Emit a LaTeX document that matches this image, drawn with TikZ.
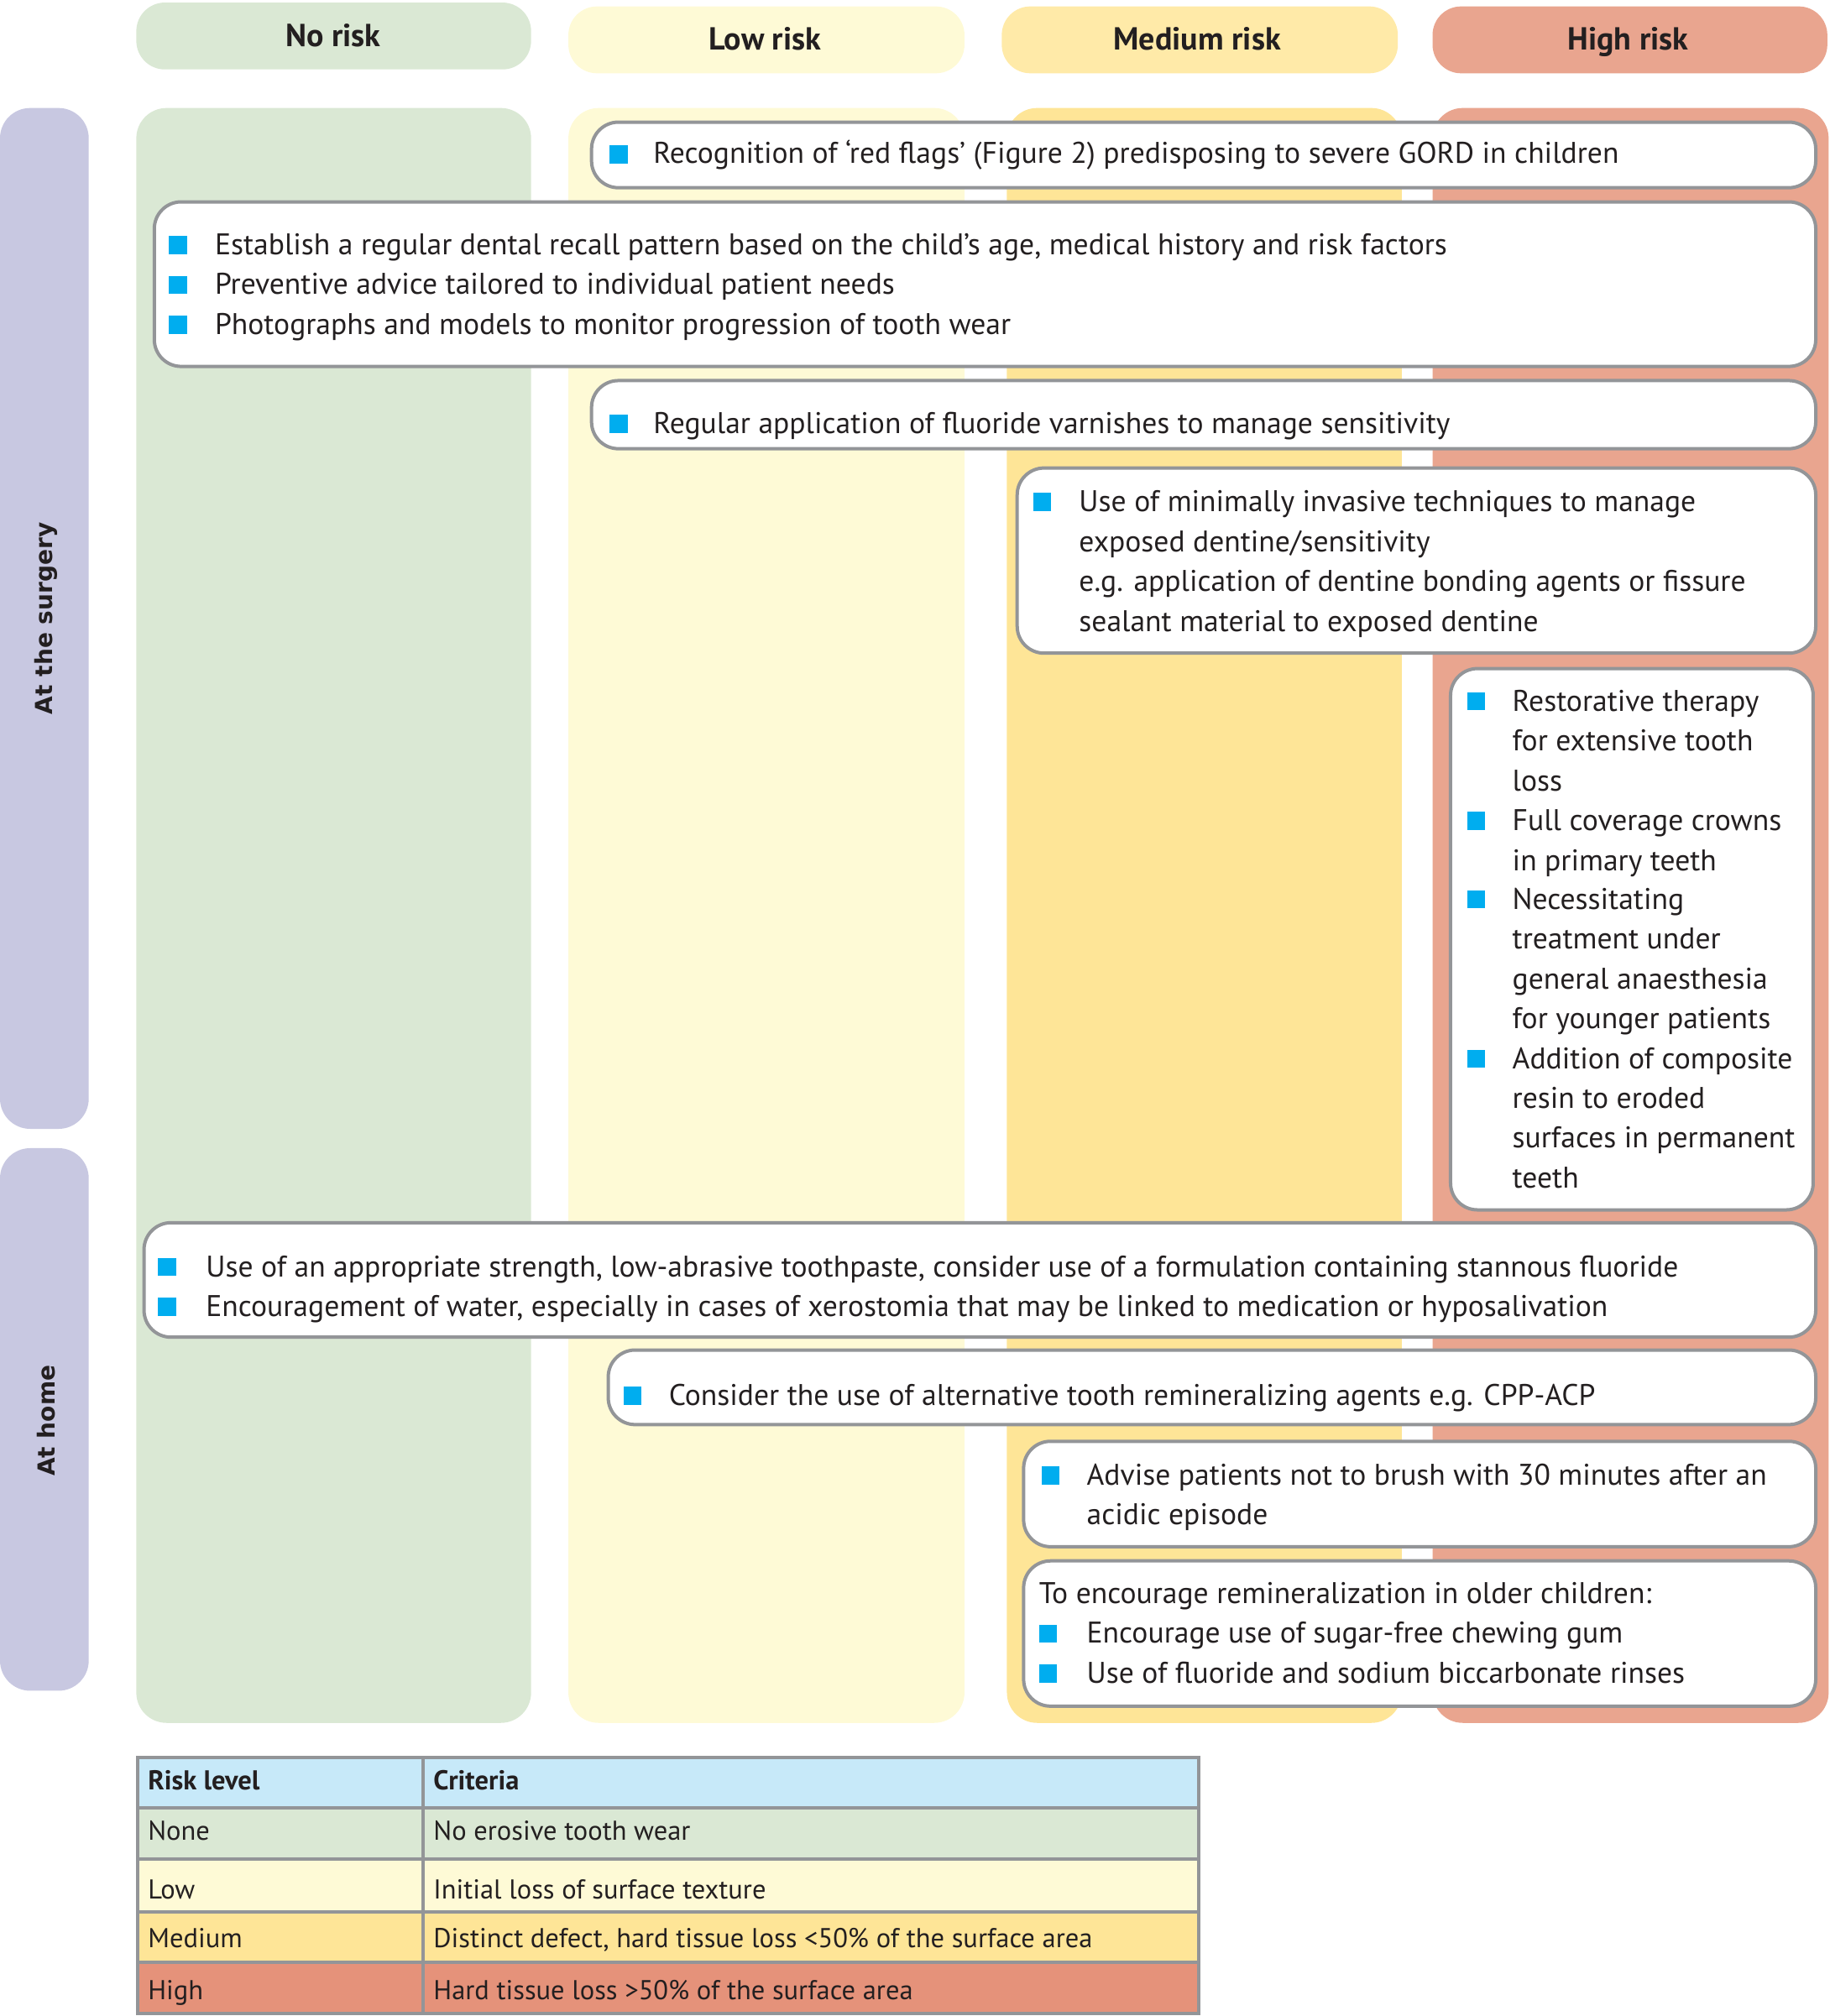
\documentclass[tikz,border=0pt]{standalone}
\usepackage{fontspec}
\setmainfont{PT Sans}
\newfontfamily\sidefont{DejaVu Sans}
\definecolor{nogreen}{HTML}{DAE8D4}
\definecolor{lowyel}{HTML}{FEFAD6}
\definecolor{medpill}{HTML}{FFEAA8}
\definecolor{medbody}{HTML}{FEE597}
\definecolor{highc}{HTML}{E9A58F}
\definecolor{tblhigh}{HTML}{E5927A}
\definecolor{lav}{HTML}{C8C8E1}
\definecolor{tblhead}{HTML}{C7E9F9}
\definecolor{grayb}{HTML}{939598}
\definecolor{ink}{HTML}{231F20}
\definecolor{bulc}{HTML}{00ADEF}
\newcommand\tline[4]{\node[txt] (#1) at (#2,#3) {#4};}
\newcommand\bsq[3]{\node[bsq] (#1) at (#2,#3) {};}
\newcommand\tcell[4]{\node[tbltxt] (#1) at (#2,#3) {#4};}
\begin{document}
\begin{tikzpicture}[x=1.532pt,y=-1.532pt,
  txt/.style={anchor=base west,inner sep=0pt,text=ink,font=\fontsize{35.6}{42}\selectfont},
  tbltxt/.style={anchor=base west,inner sep=0pt,text=ink,font=\fontsize{32.5}{38}\selectfont},
  head/.style={anchor=base,inner sep=0pt,text=ink,font=\fontsize{38}{43}\selectfont\bfseries},
  side/.style={inner sep=0pt,text=ink,rotate=90,font=\sidefont\fontsize{28}{32}\selectfont\bfseries},
  bsq/.style={rectangle,fill=bulc,draw=none,inner sep=0pt,minimum width=21.5pt,minimum height=21.5pt},
  box/.style={draw=grayb,fill=white,line width=4pt,rounded corners=32pt},
  pill/.style={draw=none,rounded corners=34pt},
  colb/.style={draw=none,rounded corners=36pt},
  cell/.style={draw=grayb,line width=4pt}]
\useasboundingbox (0,0) rectangle (1423,1568);
% header pills
\fill[nogreen,pill] (106,2) rectangle (413,54);
\fill[lowyel,pill] (442,5) rectangle (750,57);
\fill[medpill,pill] (779,5) rectangle (1087,57);
\fill[highc,pill] (1114,5) rectangle (1421,57);
\node[head] (hno) at (259,36) {No risk};
\node[head] (hlow) at (595,39) {Low risk};
\node[head] (hmed) at (931,39) {Medium risk};
\node[head] (hhigh) at (1266,39) {High risk};
% side bars
\fill[lav,colb] (0,84) rectangle (69,878);
\fill[lav,colb] (0,893) rectangle (69,1315);
\node[side] (ssurg) at (36,481) {At the surgery};
\node[side] (shome) at (36,1105) {At home};
% column bodies
\fill[nogreen,colb] (106,84) rectangle (413,1340);
\fill[lowyel,colb] (442,84) rectangle (750,1340);
\fill[medbody,colb] (783,84) rectangle (1090,1340);
\fill[highc,colb] (1114,84) rectangle (1422,1340);
% box 1
\draw[box] (460,95) rectangle (1412,146);
\bsq{b1a}{481}{120}
\tline{t1a}{508}{127}{Recognition of ‘red flags’ (Figure 2) predisposing to severe GORD in children}
% box 2
\draw[box] (120,157) rectangle (1412,285);
\bsq{b2a}{138.5}{190.5}
\bsq{b2b}{138.5}{221.5}
\bsq{b2c}{138.5}{252.5}
\tline{t2a}{167}{198}{Establish a regular dental recall pattern based on the child’s age, medical history and risk factors}
\tline{t2b}{167}{229}{Preventive advice tailored to individual patient needs}
\tline{t2c}{167}{260}{Photographs and models to monitor progression of tooth wear}
% box 3
\draw[box] (460,296) rectangle (1412,349);
\bsq{b3a}{481}{329.5}
\tline{t3a}{508}{337}{Regular application of fluoride varnishes to manage sensitivity}
% box 4
\draw[box] (791,364) rectangle (1412,508);
\bsq{b4a}{810.5}{390.5}
\tline{t4a}{839}{398}{Use of minimally invasive techniques to manage}
\tline{t4b}{839}{429}{exposed dentine/sensitivity}
\tline{t4c}{839}{460}{e.g. application of dentine bonding agents or fissure}
\tline{t4d}{839}{491}{sealant material to exposed dentine}
% box 5
\draw[box] (1128,520) rectangle (1410,941);
\bsq{b5a}{1148}{545.5}
\bsq{b5b}{1148}{638.5}
\bsq{b5c}{1148}{699.5}
\bsq{b5d}{1148}{823.5}
\tline{t5a}{1176}{553}{Restorative therapy}
\tline{t5b}{1176}{584}{for extensive tooth}
\tline{t5c}{1176}{615}{loss}
\tline{t5d}{1176}{646}{Full coverage crowns}
\tline{t5e}{1176}{677}{in primary teeth}
\tline{t5f}{1176}{707}{Necessitating}
\tline{t5g}{1176}{738}{treatment under}
\tline{t5h}{1176}{769}{general anaesthesia}
\tline{t5i}{1176}{800}{for younger patients}
\tline{t5j}{1176}{831}{Addition of composite}
\tline{t5k}{1176}{862}{resin to eroded}
\tline{t5l}{1176}{893}{surfaces in permanent}
\tline{t5m}{1176}{924}{teeth}
% box 6
\draw[box] (112,951) rectangle (1412,1040);
\bsq{b6a}{130}{985.5}
\bsq{b6b}{130}{1016.5}
\tline{t6a}{160}{993}{Use of an appropriate strength, low-abrasive toothpaste, consider use of a formulation containing stannous fluoride}
\tline{t6b}{160}{1024}{Encouragement of water, especially in cases of xerostomia that may be linked to medication or hyposalivation}
% box 7
\draw[box] (473,1050) rectangle (1412,1108);
\bsq{b7a}{492}{1085.5}
\tline{t7a}{520}{1093}{Consider the use of alternative tooth remineralizing agents e.g. CPP-ACP}
% box 8
\draw[box] (796,1121) rectangle (1412,1203);
\bsq{b8a}{817}{1147.5}
\tline{t8a}{845}{1155}{Advise patients not to brush with 30 minutes after an}
\tline{t8b}{845}{1186}{acidic episode}
% box 9
\draw[box] (796,1214) rectangle (1412,1327);
\tline{t9a}{808}{1247}{To encourage remineralization in older children:}
\bsq{b9a}{815}{1270.5}
\bsq{b9b}{815}{1301.5}
\tline{t9b}{845}{1278}{Encourage use of sugar-free chewing gum}
\tline{t9c}{845}{1309}{Use of fluoride and sodium biccarbonate rinses}
% table
\fill[tblhead] (107,1367) rectangle (932,1406);
\fill[nogreen] (107,1406) rectangle (932,1446);
\fill[lowyel] (107,1446) rectangle (932,1487);
\fill[medbody] (107,1487) rectangle (932,1526);
\fill[tblhigh] (107,1526) rectangle (932,1566);
\draw[cell] (107,1367) rectangle (932,1566);
\draw[cell] (107,1406) -- (932,1406);
\draw[cell] (107,1446) -- (932,1446);
\draw[cell] (107,1487) -- (932,1487);
\draw[cell] (107,1526) -- (932,1526);
\draw[cell] (329,1367) -- (329,1566);
\tcell{r0a}{115}{1392}{\bfseries Risk level}
\tcell{r0b}{337}{1392}{\bfseries Criteria}
\tcell{r1a}{115}{1431}{None}
\tcell{r1b}{337}{1431}{No erosive tooth wear}
\tcell{r2a}{115}{1477}{Low}
\tcell{r2b}{337}{1477}{Initial loss of surface texture}
\tcell{r3a}{115}{1515}{Medium}
\tcell{r3b}{337}{1515}{Distinct defect, hard tissue loss <50\% of the surface area}
\tcell{r4a}{115}{1555}{High}
\tcell{r4b}{337}{1555}{Hard tissue loss >50\% of the surface area}
\end{tikzpicture}
\end{document}
